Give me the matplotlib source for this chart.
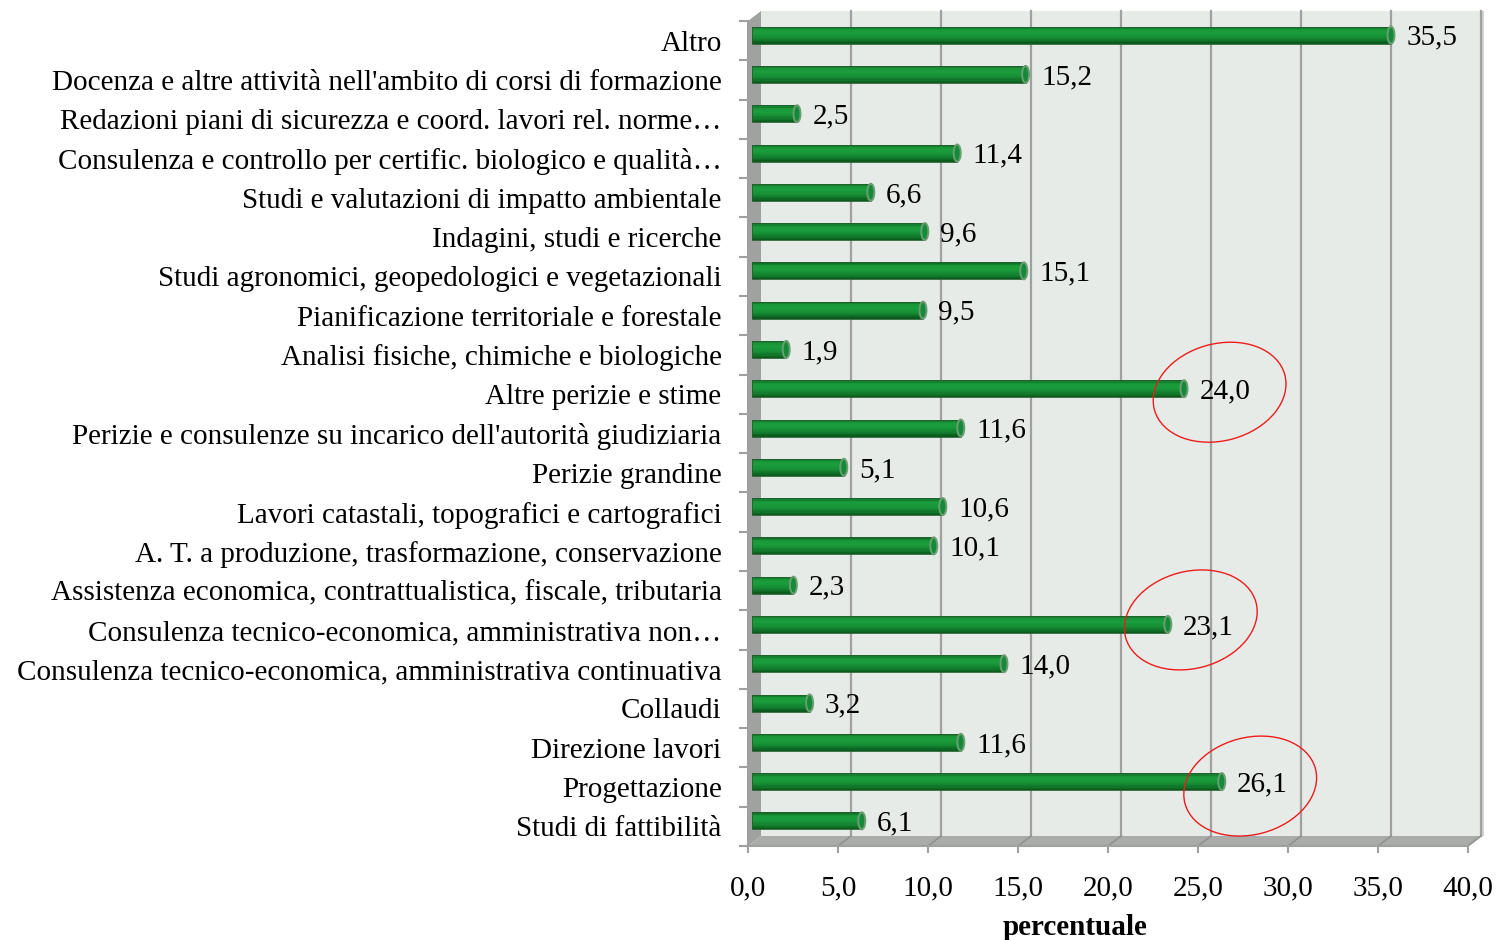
import numpy as np
import matplotlib
matplotlib.use("Agg")
import matplotlib.pyplot as plt
from matplotlib.patches import Polygon, Rectangle, Ellipse
from matplotlib.colors import LinearSegmentedColormap
from matplotlib.transforms import ScaledTranslation

plt.rcParams['font.family'] = ['Liberation Serif', 'DejaVu Serif']

# categories, top to bottom as in the chart
categories = [
    "Altro",
    "Docenza e altre attività nell'ambito di corsi di formazione",
    "Redazioni piani di sicurezza e coord. lavori rel. norme…",
    "Consulenza e controllo per certific. biologico e qualità…",
    "Studi e valutazioni di impatto ambientale",
    "Indagini, studi e ricerche",
    "Studi agronomici, geopedologici e vegetazionali",
    "Pianificazione territoriale e forestale",
    "Analisi fisiche, chimiche e biologiche",
    "Altre perizie e stime",
    "Perizie e consulenze su incarico dell'autorità giudiziaria",
    "Perizie grandine",
    "Lavori catastali, topografici e cartografici",
    "A. T. a produzione, trasformazione, conservazione",
    "Assistenza economica, contrattualistica, fiscale, tributaria",
    "Consulenza tecnico-economica, amministrativa non…",
    "Consulenza tecnico-economica, amministrativa continuativa",
    "Collaudi",
    "Direzione lavori",
    "Progettazione",
    "Studi di fattibilità",
]
values = [35.5, 15.2, 2.5, 11.4, 6.6, 9.6, 15.1, 9.5, 1.9, 24.0, 11.6,
          5.1, 10.6, 10.1, 2.3, 23.1, 14.0, 3.2, 11.6, 26.1, 6.1]
xticks = [0, 5, 10, 15, 20, 25, 30, 35, 40]

# values circled in red: (category, x shift in data units, y shift in px)
circled = [("Altre perizie e stime", 2.2, 2),
           ("Consulenza tecnico-economica, amministrativa non…", 1.5, 10),
           ("Progettazione", 1.8, 1)]

fig = plt.figure(figsize=(15, 9.4), dpi=100)
# axes = front plane of the 3D box
ax = fig.add_axes([748 / 1500, 1 - 846 / 940, 720 / 1500, 825 / 940])
ax.set_facecolor('none')
n = len(categories)
ax.set_xlim(0, 40)
ax.set_ylim(n, 0)

px_x = 720 / 40
px_y = 825 / n
# depth offset of back wall (right and up) in data units
bx, by = 13 / px_x, -10 / px_y
mx, my = 4 / px_x, -5.5 / px_y

wall_kw = dict(clip_on=False, lw=0)
# back wall
ax.add_patch(Rectangle((bx, by), 40, n, facecolor='#e6ebe7', zorder=0, **wall_kw))
ax.add_patch(Rectangle((40 + bx, by), 3 / px_x, n, facecolor='#d2d4d2', zorder=0, **wall_kw))
# floor
ax.add_patch(Polygon([(0, n), (40, n), (40 + bx, n + by), (bx, n + by)],
                     closed=True, facecolor='#a9aca9', zorder=0.5, **wall_kw))
# left wall
ax.add_patch(Polygon([(0, n), (bx, n + by), (bx, by), (0, 0)],
                     closed=True, facecolor='#a0a2a0', zorder=0.5, **wall_kw))
# gridlines on wall and floor
for x in xticks[1:]:
    ax.plot([x + bx, x + bx], [by, n + by], color='#a0a0a0', lw=1.6, zorder=0.6, clip_on=False)
    ax.plot([x, x + bx], [n, n + by], color='#909290', lw=1.2, zorder=0.6, clip_on=False)

# cylinder bars
cyl = LinearSegmentedColormap.from_list(
    'cyl', ['#0f6424', '#1a9a3a', '#1b9c3c', '#168f35', '#11792b', '#0a551c'])
h = 17 / px_y
nstrip = 14
ypos = np.arange(n) + 0.5
for k in range(nstrip):
    frac = (k + 0.5) / nstrip
    ax.barh(ypos + my - h / 2 + k * h / nstrip, values, height=h / nstrip + 0.002,
            left=mx, align='edge', color=cyl(frac), lw=0, zorder=2, clip_on=False)
ax.barh(ypos + my, values, height=h, left=mx, facecolor='none',
        edgecolor='#24602e', lw=0.6, zorder=2.5, clip_on=False)
for yc, v in zip(ypos, values):
    ax.add_patch(Ellipse((v + mx, yc + my), 7 / px_x, h, facecolor='#15893a',
                         edgecolor='#6a9e70', lw=1.4, zorder=3, clip_on=False))
    ax.annotate(f"{v:.1f}".replace('.', ','), (v, yc), xytext=(14, 2),
                textcoords='offset points', ha='left', va='center',
                fontsize=21, zorder=4, annotation_clip=False)

# red ellipses
for cat, dxu, dypx in circled:
    i = categories.index(cat)
    tr = fig.dpi_scale_trans + ScaledTranslation(values[i] + dxu, ypos[i] - dypx / px_y, ax.transData)
    fig.add_artist(Ellipse((0, 0), 1.35, 0.97, angle=15, transform=tr,
                           facecolor='none', edgecolor='#ee1c1c', lw=1.0, zorder=5))

# axes styling
for s in ['top', 'right']:
    ax.spines[s].set_visible(False)
for s in ['left', 'bottom']:
    ax.spines[s].set_color('#a0a0a0')
    ax.spines[s].set_linewidth(1.5)
ax.set_xticks(xticks)
ax.set_xticklabels([f"{x:.1f}".replace('.', ',') for x in xticks])
ax.tick_params(axis='x', length=5, width=1.5, color='#a0a0a0', labelsize=21, pad=16)
ax.set_yticks(ypos)
ax.set_yticklabels(categories)
ax.set_yticks(np.arange(n + 1), minor=True)
ax.tick_params(axis='y', which='major', length=0, labelsize=21, pad=19)
ax.tick_params(axis='y', which='minor', length=6.5, width=1.5, color='#a0a0a0')
ax.set_xlabel("percentuale", fontsize=21, fontweight='bold')
ax.xaxis.set_label_coords(0.454, -0.083)

fig.savefig("out.png", dpi=100)
